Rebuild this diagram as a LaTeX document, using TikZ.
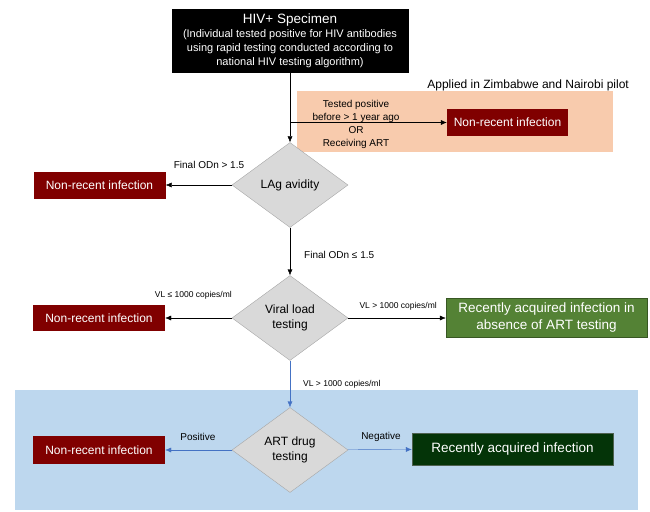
\documentclass[tikz,border=0pt]{standalone}
\usepackage{fontspec}
\setmainfont{Liberation Sans}
\usetikzlibrary{shapes.geometric, arrows.meta}
\definecolor{nrred}{RGB}{128,0,0}
\definecolor{okgreen}{RGB}{84,130,53}
\definecolor{okgreenbd}{RGB}{56,87,35}
\definecolor{dkgreen}{RGB}{4,52,8}
\definecolor{pilot}{RGB}{248,203,173}
\definecolor{artzone}{RGB}{189,215,238}
\definecolor{testgray}{RGB}{217,217,217}
\definecolor{artblue}{RGB}{68,114,196}

\begin{document}
\begin{tikzpicture}[x=1pt, y=-1pt,
    result/.style = {fill=nrred, text=white, minimum width=132pt, minimum height=27pt, inner sep=1pt, font=\fontsize{12}{14}\selectfont},
    recent/.style = {text=white, minimum width=201pt, inner sep=1pt, align=center, font=\fontsize{13.5}{17}\selectfont},
    test/.style = {draw=gray!70, diamond, fill=testgray, minimum width=116pt, minimum height=85pt, inner sep=0pt, align=center, font=\fontsize{12}{15}\selectfont},
    cond/.style = {inner sep=1pt, font=\fontsize{10}{12}\selectfont},
    vlcond/.style = {inner sep=1pt, font=\fontsize{8.5}{10}\selectfont},
    flow/.style = {-{Latex[length=6pt, width=5pt]}}]
    \useasboundingbox (0,0) rectangle (650,511);

    % shaded zones
    \fill[pilot] (297,91) rectangle (613,152);
    \fill[artzone] (15,390) rectangle (638,510);

    \node[fill=black, text=white, minimum width=237pt, minimum height=63pt, inner sep=1pt, align=center, font=\fontsize{11}{14}\selectfont] (spec) at (290,41) {{\fontsize{13.5}{14}\selectfont HIV+ Specimen}\\ (Individual tested positive for HIV antibodies\\ using rapid testing conducted according to\\ national HIV testing algorithm)};

    \begin{scope}
        \node[anchor=east, inner sep=0pt, font=\fontsize{12}{14}\selectfont] (pilot lbl) at (629,85) {Applied in Zimbabwe and Nairobi pilot};
        \node[result, minimum width=121pt] (nr early) at (507.5,122.5) {Non-recent infection};
        \coordinate (split) at (spec.south |- nr early);
        \draw[flow] (split) -- (nr early);
        \node[cond, align=center, font=\fontsize{10}{13}\selectfont] (prior) at (356,124) {Tested positive\\ before > 1 year ago\\ OR\\ Receiving ART};
    \end{scope}

    \begin{scope}
        \node[test] (lag) at (290,185) {LAg avidity};
        \draw[flow] (spec) -- (lag);
        \node[result] (nr lag) at (99.5,185) {Non-recent infection};
        \draw[flow] (lag) -- (nr lag);
        \node[cond] (odn hi) at (209,165) {Final ODn > 1.5};
    \end{scope}

    \begin{scope}
        \node[test] (vl) at (290,318) {Viral load\\ testing};
        \draw[flow] (lag) -- (vl);
        \node[cond, anchor=west] (odn lo) at (303,255) {Final ODn ≤ 1.5};
        \node[result, minimum height=26pt] (nr vl) at (99,318) {Non-recent infection};
        \draw[flow] (vl) -- (nr vl);
        \node[vlcond, anchor=east] (vl lo) at (233,295) {VL ≤ 1000 copies/ml};
        \node[recent, fill=okgreen, draw=okgreenbd, minimum height=39pt] (recent noart) at (546.5,318) {Recently acquired infection in\\ absence of ART testing};
        \draw[flow] (vl) -- (recent noart);
        \node[vlcond, anchor=east] (vl hi) at (438,306) {VL > 1000 copies/ml};
    \end{scope}

    \begin{scope}
        \node[test] (art) at (290,450) {ART drug\\ testing};
        \draw[flow, artblue] (vl) -- (art);
        \node[vlcond, anchor=west] (vl hi art) at (302,384) {VL > 1000 copies/ml};
        \node[result, minimum height=28pt] (nr art) at (99,450) {Non-recent infection};
        \draw[flow, artblue] (art) -- (nr art);
        \node[cond] (pos) at (198,437) {Positive};
        \node[recent, fill=dkgreen, draw=gray!60!dkgreen, minimum height=32pt] (recent art) at (512.5,449) {Recently acquired infection};
        \draw[flow, artblue] (art) -- (recent art);
        \node[cond] (neg) at (381,437) {Negative};
    \end{scope}
\end{tikzpicture}
\end{document}
